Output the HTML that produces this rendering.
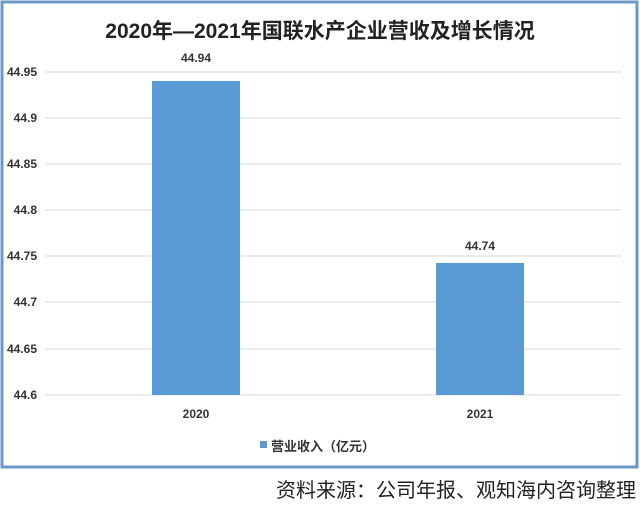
<!DOCTYPE html>
<html><head><meta charset="utf-8"><style>
body{margin:0;width:640px;height:504px;background:#fff;overflow:hidden;font-family:"Liberation Sans","Noto Sans CJK SC",sans-serif}
</style></head><body>
<svg width="640" height="504" xmlns="http://www.w3.org/2000/svg" font-family="Liberation Sans, Noto Sans CJK SC, sans-serif">
<rect x="2" y="2" width="635" height="465" fill="#fff" stroke="#6b98c4" stroke-width="3"/>
<text x="320" y="38" text-anchor="middle" font-size="21" font-weight="bold" fill="#222">2020年—2021年国联水产企业营收及增长情况</text>
<g stroke="#d9d9d9" stroke-width="1">
<line x1="45" x2="622" y1="72" y2="72"/><line x1="45" x2="622" y1="118" y2="118"/>
<line x1="45" x2="622" y1="164" y2="164"/><line x1="45" x2="622" y1="210" y2="210"/>
<line x1="45" x2="622" y1="256" y2="256"/><line x1="45" x2="622" y1="302" y2="302"/>
<line x1="45" x2="622" y1="349" y2="349"/><line x1="45" x2="622" y1="395" y2="395"/>
</g>
<g font-size="12" font-weight="bold" fill="#333" text-anchor="end">
<text x="37" y="76">44.95</text><text x="37" y="122">44.9</text><text x="37" y="168">44.85</text>
<text x="37" y="214">44.8</text><text x="37" y="260">44.75</text><text x="37" y="306">44.7</text>
<text x="37" y="353">44.65</text><text x="37" y="399">44.6</text>
</g>
<rect x="152" y="81" width="88" height="314" fill="#5b9bd5"/>
<rect x="436" y="263" width="88" height="132" fill="#5b9bd5"/>
<g font-size="12" font-weight="bold" fill="#333" text-anchor="middle">
<text x="196" y="62">44.94</text><text x="480" y="250">44.74</text>
<text x="196" y="418">2020</text><text x="480" y="418">2021</text>
</g>
<rect x="260" y="441" width="7" height="7" fill="#5b9bd5"/>
<text x="271" y="451" font-size="13" font-weight="bold" fill="#333">营业收入（亿元）</text>
<text x="636" y="497" text-anchor="end" font-size="20" fill="#222">资料来源：公司年报、观知海内咨询整理</text>
</svg>
</body></html>
